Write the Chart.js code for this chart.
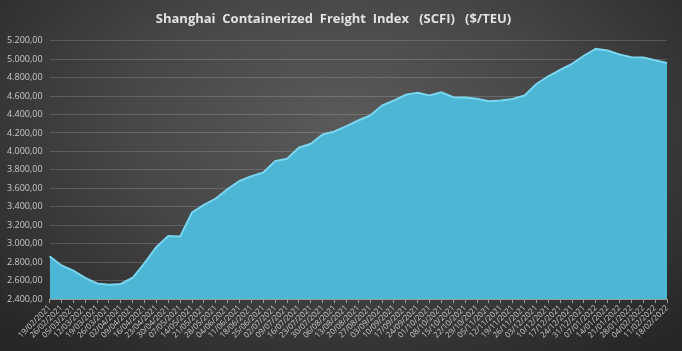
<!DOCTYPE html>
<html>
<head>
<meta charset="utf-8">
<script src="https://cdn.jsdelivr.net/npm/chart.js@4/dist/chart.umd.min.js"></script>
<style>
  html, body { margin: 0; padding: 0; }
  body {
    width: 682px; height: 351px; overflow: hidden;
    background: radial-gradient(ellipse 70% 85% at 50% 35%, #5a5a5a 0%, #474747 45%, #2e2e2e 85%, #262626 100%);
  }
  #wrap { position: relative; width: 682px; height: 351px; }
</style>
</head>
<body>
<div id="wrap"><canvas id="chartScfi"></canvas></div>
<script>
const datas = [
    '19/02/2021', '26/02/2021', '05/03/2021', '12/03/2021', '19/03/2021', '26/03/2021',
    '02/04/2021', '09/04/2021', '16/04/2021', '23/04/2021', '30/04/2021', '07/05/2021',
    '14/05/2021', '21/05/2021', '28/05/2021', '04/06/2021', '11/06/2021', '18/06/2021',
    '25/06/2021', '02/07/2021', '09/07/2021', '16/07/2021', '23/07/2021', '30/07/2021',
    '06/08/2021', '13/08/2021', '20/08/2021', '27/08/2021', '03/09/2021', '10/09/2021',
    '17/09/2021', '24/09/2021', '01/10/2021', '08/10/2021', '15/10/2021', '22/10/2021',
    '29/10/2021', '05/11/2021', '12/11/2021', '19/11/2021', '26/11/2021', '03/12/2021',
    '10/12/2021', '17/12/2021', '24/12/2021', '31/12/2021', '07/01/2022', '14/01/2022',
    '21/01/2022', '28/01/2022', '04/02/2022', '11/02/2022', '18/02/2022'
];

// valores do indice SCFI ($/TEU)
const valoresScfi = [
    2865, 2765, 2710, 2630, 2570, 2557,
    2565, 2632, 2790, 2965, 3085, 3080,
    3340, 3420, 3490, 3592, 3680, 3732,
    3772, 3895, 3921, 4040, 4083, 4184,
    4216, 4273, 4335, 4389, 4497, 4551,
    4613, 4635, 4605, 4641, 4587, 4585,
    4570, 4544, 4551, 4568, 4605, 4730,
    4814, 4883, 4948, 5036, 5110, 5092,
    5049, 5019, 5016, 4988, 4957
];

const eixoY = { min: 2400, max: 5200, passo: 200 };

const corTexto = '#c8c8c8';
const corGrade = 'rgba(255,255,255,0.16)';

const formatoNumero = new Intl.NumberFormat('de-DE', { minimumFractionDigits: 2, maximumFractionDigits: 2 });

const ctx = document.getElementById('chartScfi').getContext('2d');

new Chart(ctx, {
    type: 'line',
    data: {
        labels: datas,
        datasets: [{
            data: valoresScfi,
            fill: 'start',
            backgroundColor: '#4cb6d4',
            borderColor: '#7ad6f0',
            borderWidth: 2,
            pointRadius: 0,
            tension: 0
        }]
    },
    options: {
        responsive: true,
        maintainAspectRatio: false,
        animation: false,
        layout: { padding: { left: 0, right: 15, top: 3, bottom: 11 } },
        plugins: {
            legend: { display: false },
            tooltip: { enabled: false },
            title: {
                display: true,
                text: 'Shanghai  Containerized  Freight  Index   (SCFI)   ($/TEU)',
                color: '#e2e2e2',
                font: { family: 'Open Sans', size: 13, weight: 'bold' },
                padding: { top: 8, bottom: 14 }
            }
        },
        scales: {
            x: {
                offset: false,
                grid: { display: true, drawOnChartArea: false, drawTicks: true, tickLength: 4, color: '#9a9a9a' },
                border: { display: true, color: '#9a9a9a' },
                ticks: {
                    autoSkip: false,
                    maxRotation: 45,
                    minRotation: 45,
                    padding: 0,
                    color: corTexto,
                    font: { family: 'Open Sans', size: 8 }
                }
            },
            y: {
                min: eixoY.min,
                max: eixoY.max,
                grid: { color: corGrade, drawTicks: false },
                border: { display: false },
                ticks: {
                    stepSize: eixoY.passo,
                    padding: 7,
                    color: corTexto,
                    font: { family: 'Open Sans', size: 9 },
                    callback: function (valor) { return formatoNumero.format(valor); }
                }
            }
        }
    }
});
</script>
</body>
</html>
